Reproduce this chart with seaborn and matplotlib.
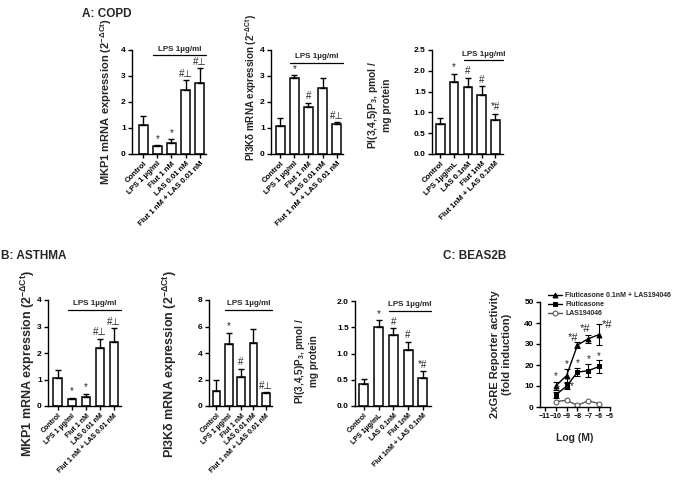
import numpy as np
import matplotlib
matplotlib.use("Agg")
import matplotlib.pyplot as plt
import matplotlib.transforms as mtransforms
import seaborn as sns

# ---------------- data ----------------
cats_mrna = ["Control", "LPS 1 \u00b5g/ml", "Flut 1 nM", "LAS 0.01 nM", "Flut 1 nM + LAS 0.01 nM"]
cats_pip3 = ["Control", "LPS 1\u00b5g/mL", "LAS 0.1nM", "Flut 1nM", "Flut 1nM + LAS 0.1nM"]

copd_mkp1 = [1.10, 0.30, 0.42, 2.45, 2.75]
copd_mkp1_err = [0.38, 0.03, 0.14, 0.39, 0.54]
copd_pi3k = [1.07, 2.94, 1.81, 2.55, 1.17]
copd_pi3k_err = [0.31, 0.08, 0.17, 0.38, 0.05]
copd_pip3 = [0.71, 1.72, 1.62, 1.41, 0.81]
copd_pip3_err = [0.15, 0.20, 0.21, 0.22, 0.16]

asth_mkp1 = [1.05, 0.28, 0.33, 2.18, 2.43]
asth_mkp1_err = [0.31, 0.03, 0.13, 0.35, 0.50]
asth_pi3k = [1.10, 4.65, 2.20, 4.75, 0.95]
asth_pi3k_err = [0.88, 0.85, 0.62, 1.08, 0.07]
asth_pip3 = [0.42, 1.50, 1.35, 1.06, 0.53]
asth_pip3_err = [0.10, 0.13, 0.13, 0.16, 0.13]

sig_mkp1 = ["", "*", "*", "#\u22a5", "#\u22a5"]
sig_pi3k = ["", "*", "#", "", "#\u22a5"]
sig_pip3 = ["", "*", "#", "#", "*#"]

log_m = [-10, -9, -8, -7, -6]
combo = [10.0, 15.0, 29.5, 32.5, 34.5]
combo_err = [2.0, 3.0, 1.5, 2.0, 5.0]
flut = [5.8, 9.9, 16.6, 17.3, 19.3]
flut_err = [1.5, 1.5, 2.0, 3.0, 3.0]
las = [2.6, 3.2, 0.8, 3.0, 1.5]
c_marks = ["*", "*", "*#", "*#", "*#"]
c_marks_flut = ["*", "*", "*", "*", "*"]

# ---------------- style ----------------
sns.set_theme(style="ticks")
plt.rcParams["font.family"] = ["Liberation Sans", "DejaVu Sans"]
plt.rcParams["font.weight"] = "bold"
plt.rcParams["mathtext.fontset"] = "custom"
plt.rcParams["mathtext.rm"] = "Liberation Sans:bold"
plt.rcParams["mathtext.it"] = "Liberation Sans:bold"
plt.rcParams["mathtext.bf"] = "Liberation Sans:bold"
plt.rcParams["mathtext.default"] = "bf"
plt.rcParams["axes.linewidth"] = 1.0

W, H = 678, 482
fig = plt.figure(figsize=(W / 100, H / 100), dpi=100)
fig.patch.set_facecolor("white")


def px_axes(x0, x1, y0, y1):
    return fig.add_axes([x0 / W, 1 - y1 / H, (x1 - x0) / W, (y1 - y0) / H])


def style_ax(ax):
    sns.despine(ax=ax)
    ax.tick_params(axis="both", direction="out", length=3, width=1, pad=1.5,
                   labelsize=6, color="black", labelcolor="black")
    for lab in ax.get_yticklabels() + ax.get_xticklabels():
        lab.set_fontweight("bold")
    for s in ("left", "bottom"):
        ax.spines[s].set_color("black")


def bar_panel(ax, cats, vals, errs, ylim, yticks, ylabel, lab_x, lab_y, lab_size,
              sigs, bracket_start, bracket_y, xlim, xt_size, fmt=None):
    sns.barplot(x=cats, y=vals, ax=ax, color="white", edgecolor="black",
                linewidth=1.1, width=0.62, errorbar=None, saturation=1)
    xs = np.arange(len(vals))
    ax.errorbar(xs, vals, yerr=[np.zeros(len(vals)), errs], fmt="none",
                ecolor="black", elinewidth=1.0, capsize=2.2, capthick=1.0)
    ax.set_ylim(*ylim)
    ax.set_xlim(*xlim)
    ax.set_yticks(yticks)
    if fmt:
        ax.set_yticklabels([fmt.format(t) for t in yticks])
    ax.set_xticks(xs)
    style_ax(ax)
    ax.set_xticklabels(cats, rotation=45, ha="right", rotation_mode="anchor",
                       fontsize=xt_size, fontweight="bold")
    ax.set_xlabel("")
    ax.set_ylabel(ylabel, fontsize=lab_size, fontweight="bold")
    ax.yaxis.set_label_coords(lab_x, lab_y)
    span = ylim[1] - ylim[0]
    for i, s in enumerate(sigs):
        if s:
            ax.text(i, vals[i] + errs[i] + 0.015 * span, s, ha="center",
                    va="bottom", fontsize=7, fontweight="normal")
    tr = mtransforms.blended_transform_factory(ax.transData, ax.transAxes)
    x0 = bracket_start - 0.31
    x1 = xlim[1]
    ax.plot([x0, x1], [bracket_y, bracket_y], color="black", lw=0.9,
            transform=tr, clip_on=False)
    ax.text((x0 + x1) / 2, bracket_y + 0.025, "LPS 1\u00b5g/ml", transform=tr,
            ha="center", va="bottom", fontsize=5.8, fontweight="bold")


lab_mkp1 = "MKP1 mRNA expression (2$^{-\\Delta Ct}$)"
lab_pi3k = "PI3K\u03b4 mRNA expression (2$^{-\\Delta Ct}$)"
lab_pip3 = "PI(3,4,5)P$_3$, pmol /\nmg protein"

# ---- A: COPD ----
axA1 = px_axes(132, 206, 50, 154)
bar_panel(axA1, cats_mrna, copd_mkp1, copd_mkp1_err, (0, 4), [0, 1, 2, 3, 4],
          lab_mkp1, -0.25, 0.5, 8, sig_mkp1, 1, 0.95, (-0.8, 4.45), 5.6)
axA2 = px_axes(271, 343, 50, 154)
bar_panel(axA2, cats_mrna, copd_pi3k, copd_pi3k_err, (0, 4), [0, 1, 2, 3, 4],
          lab_pi3k, -0.17, 0.64, 7, sig_pi3k, 1, 0.875, (-0.65, 4.45), 5.6)
axA3 = px_axes(432, 503, 50, 154)
bar_panel(axA3, cats_pip3, copd_pip3, copd_pip3_err, (0, 2.5),
          [0, 0.5, 1.0, 1.5, 2.0, 2.5], lab_pip3, -0.57, 0.47, 7.4, sig_pip3, 2, 0.9,
          (-0.6, 4.55), 5.6, fmt="{:.1f}")

# ---- B: ASTHMA ----
axB1 = px_axes(48, 121, 300, 406)
bar_panel(axB1, cats_mrna, asth_mkp1, asth_mkp1_err, (0, 4), [0, 1, 2, 3, 4],
          lab_mkp1, -0.15, 0.4, 9, sig_mkp1, 1, 0.91, (-0.7, 4.5), 5.0)
axB2 = px_axes(209, 272, 300, 406)
bar_panel(axB2, cats_mrna, asth_pi3k, asth_pi3k_err, (0, 8), [0, 2, 4, 6, 8],
          lab_pi3k, -0.47, 0.4, 9, sig_pi3k, 1, 0.91, (-0.6, 4.5), 5.0)
axB3 = px_axes(355, 431, 301, 406)
bar_panel(axB3, cats_pip3, asth_pip3, asth_pip3_err, (0, 2.0),
          [0, 0.5, 1.0, 1.5, 2.0], lab_pip3, -0.48, 0.43, 7.2, sig_pip3, 2, 0.905,
          (-0.6, 4.55), 5.0, fmt="{:.1f}")

# ---- C: BEAS2B ----
axC = px_axes(540, 610, 302, 407)
sns.lineplot(x=log_m, y=combo, ax=axC, color="black", marker="^", markersize=3.5,
             markeredgecolor="black", lw=1.0, label="Fluticasone 0.1nM + LAS194046")
sns.lineplot(x=log_m, y=flut, ax=axC, color="black", marker="s", markersize=3.2,
             markeredgecolor="black", lw=1.0, label="Fluticasone")
sns.lineplot(x=log_m, y=las, ax=axC, color="#555555", marker="o", markersize=3.5,
             markerfacecolor="white", markeredgecolor="#555555", lw=1.0,
             label="LAS194046")
axC.errorbar(log_m, combo, yerr=combo_err, fmt="none", ecolor="black", elinewidth=0.8,
             capsize=2, capthick=0.8)
axC.errorbar(log_m, flut, yerr=flut_err, fmt="none", ecolor="black", elinewidth=0.8,
             capsize=2, capthick=0.8)
axC.set_xlim(-11.45, -5)
axC.set_ylim(0, 50)
axC.set_xticks([-11, -10, -9, -8, -7, -6, -5])
axC.set_yticks([0, 10, 20, 30, 40, 50])
style_ax(axC)
axC.tick_params(axis="x", labelsize=5.0)
axC.set_xlabel("Log (M)", fontsize=7.5, fontweight="bold", labelpad=9)
axC.set_ylabel("2xGRE Reporter activity\n(fold induction)", fontsize=8,
               fontweight="bold")
axC.yaxis.set_label_coords(-0.4, 0.5)
combo_dx = [0, 0, -0.4, -0.25, 0.75]
combo_dy = [2.5, 2.3, 2.0, 2.5, -0.5]
for i, s in enumerate(c_marks):
    axC.text(log_m[i] + combo_dx[i], combo[i] + combo_err[i] + combo_dy[i], s,
             ha="center", va="center", fontsize=8 if len(s) > 1 else 7,
             fontweight="normal")
flut_dx = [0.15, 0.5, 0, 0, 0]
flut_dy = [1.0, -1.2, 2.3, 2.6, 1.8]
for i, s in enumerate(c_marks_flut):
    axC.text(log_m[i] + flut_dx[i], flut[i] + flut_err[i] + flut_dy[i], s,
             ha="center", va="center", fontsize=7, fontweight="normal")
axC.legend(loc="upper left", bbox_to_anchor=(545 / W, 1 - 289 / H),
           bbox_transform=fig.transFigure, frameon=False,
           handlelength=2.0, labelspacing=0.25, borderpad=0, handletextpad=0.4,
           prop={"weight": "bold", "size": 5.0})

# ---- panel titles ----
fig.text(82 / W, 1 - 14 / H, "A: COPD", fontsize=8.5, fontweight="bold", va="center")
fig.text(1 / W, 1 - 256 / H, "B: ASTHMA", fontsize=8.5, fontweight="bold", va="center")
fig.text(443 / W, 1 - 256 / H, "C: BEAS2B", fontsize=8.5, fontweight="bold", va="center")

fig.savefig("out.png", dpi=100, facecolor="white")
